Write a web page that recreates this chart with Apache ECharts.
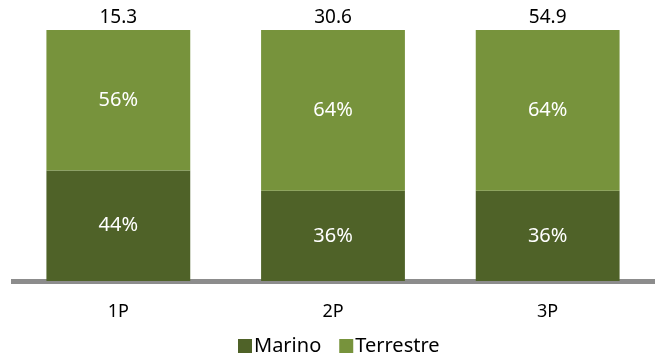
<!DOCTYPE html>
<html>
<head>
<meta charset="utf-8">
<script src="https://cdn.jsdelivr.net/npm/echarts@6/dist/echarts.min.js"></script>
<style>
  html, body { margin: 0; padding: 0; background: #fff; }
  #chart { width: 657px; height: 358px; }
</style>
</head>
<body>
<div id="chart"></div>
<script>
// datos
const categories = ['1P', '2P', '3P']
const marino = [44, 36, 36]
const terrestre = [56, 64, 64]
const totals = ['15.3', '30.6', '54.9']

const FONT = 'Noto Sans'
const chart = echarts.init(document.getElementById('chart'))

chart.setOption({
  animation: false,
  textStyle: { fontFamily: FONT },
  grid: { left: 11, right: 2, top: 30, bottom: 77 },
  legend: {
    data: ['Marino', 'Terrestre'],
    bottom: -3,
    left: 233,
    itemWidth: 14,
    itemHeight: 14,
    itemGap: 18,
    icon: 'rect',
    textStyle: { fontFamily: FONT, fontSize: 20, color: '#000', padding: [0, 0, 0, -3] }
  },
  xAxis: {
    type: 'category',
    data: categories,
    offset: 3,
    axisLine: { lineStyle: { color: '#8c8c8c', width: 5, cap: 'butt' } },
    axisTick: { show: false },
    axisLabel: { fontFamily: FONT, fontSize: 18, color: '#000', margin: 19 }
  },
  yAxis: {
    type: 'value',
    min: 0,
    max: 100,
    show: false,
    splitLine: { show: false }
  },
  series: [
    {
      name: 'Marino',
      type: 'bar',
      stack: 'total',
      barCategoryGap: '33%',
      data: marino,
      itemStyle: { color: '#4f6228' },
      label: {
        show: true,
        position: 'inside',
        color: '#fff',
        fontFamily: FONT,
        fontSize: 20,
        formatter: p => p.value + '%'
      }
    },
    {
      name: 'Terrestre',
      type: 'bar',
      stack: 'total',
      data: terrestre,
      itemStyle: { color: '#77933c' },
      label: {
        show: true,
        position: 'inside',
        color: '#fff',
        fontFamily: FONT,
        fontSize: 20,
        formatter: p => p.value + '%'
      }
    },
    {
      // etiqueta del total encima de cada barra
      name: 'Total',
      type: 'bar',
      stack: 'total',
      data: categories.map(() => 0),
      itemStyle: { color: 'transparent' },
      label: {
        show: true,
        position: 'top',
        distance: 3,
        color: '#000',
        fontFamily: FONT,
        fontSize: 19,
        formatter: p => totals[p.dataIndex]
      }
    }
  ]
})
</script>
</body>
</html>
